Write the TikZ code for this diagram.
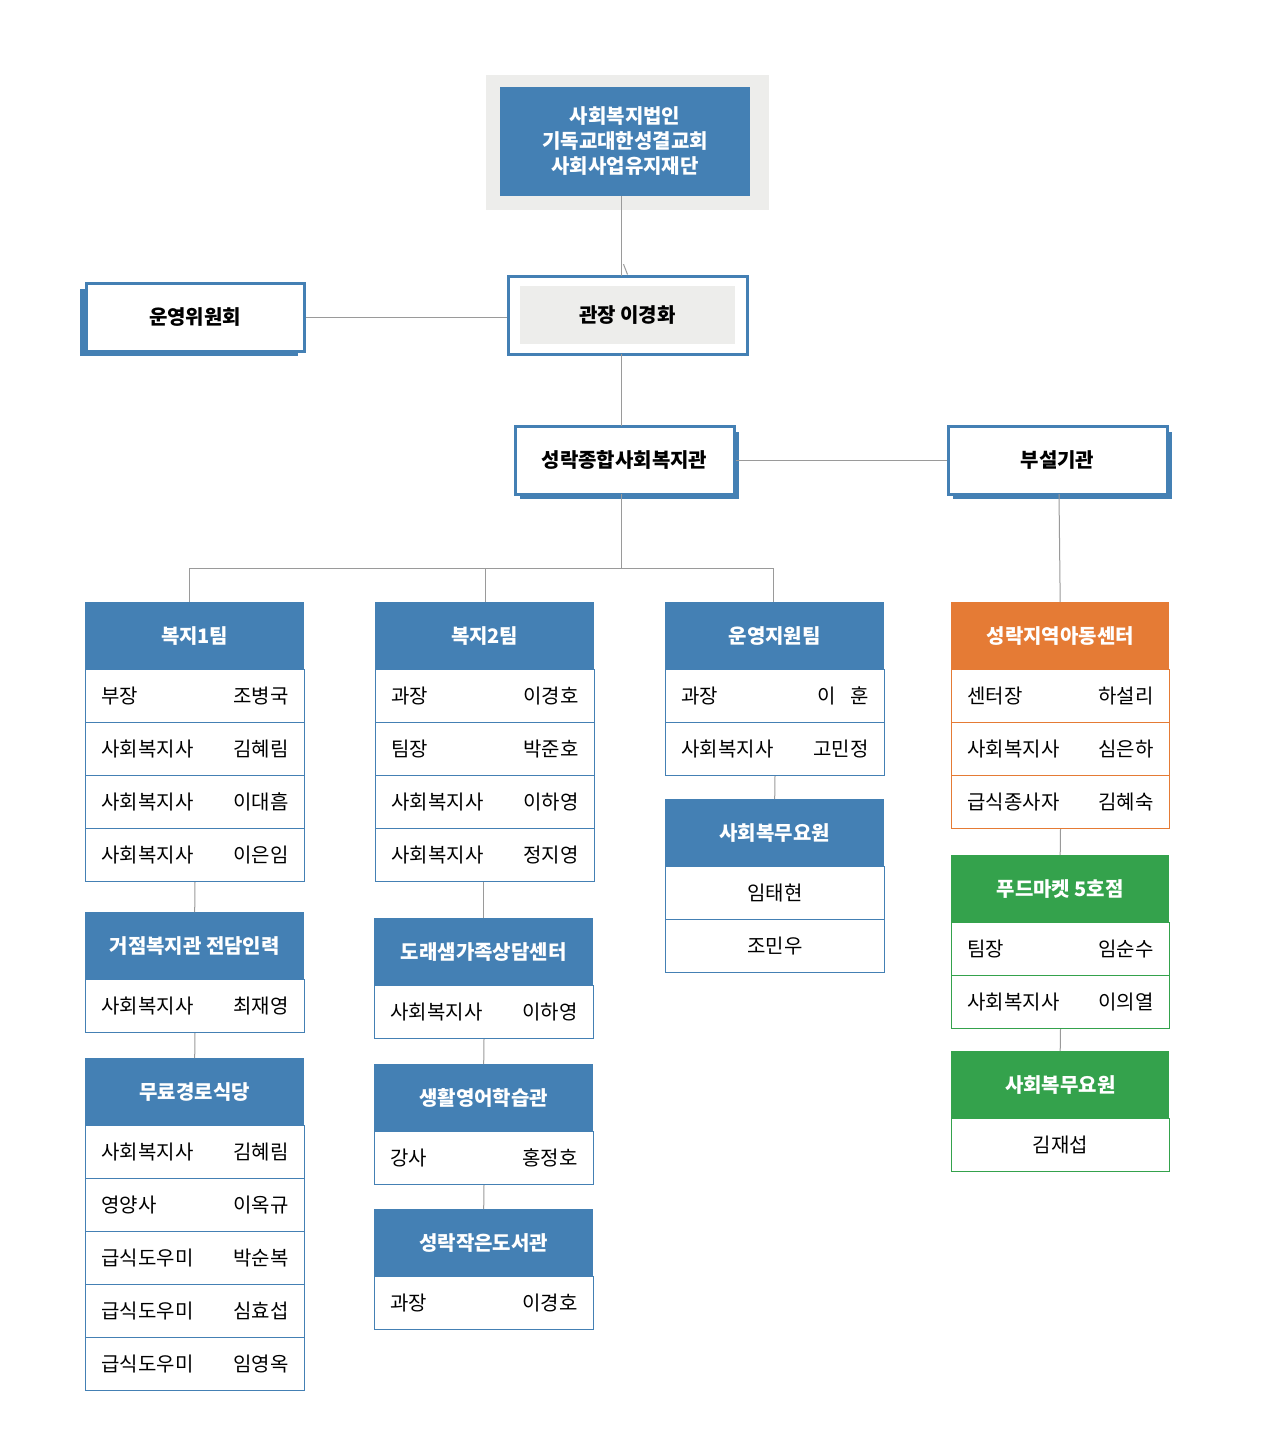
\documentclass[tikz,border=0pt]{standalone}
\usepackage{fontspec}
\setmainfont{Noto Sans CJK KR}
\newfontfamily\kb[FakeBold=0]{Noto Sans CJK KR Medium}
\definecolor{cblue}{HTML}{4480B4}
\definecolor{cblue2}{HTML}{9BBBDA}
\definecolor{corange}{HTML}{E57B35}
\definecolor{cgreen}{HTML}{34A24C}
\definecolor{cgrey}{HTML}{EDEDEB}
\definecolor{lgrey}{HTML}{9A9A9A}
\tikzset{
 hdrbox/.style={fill=cblue,text=white,font=\fontsize{20}{22}\selectfont\bfseries,minimum height=67pt,inner sep=0pt,anchor=north west},
 rowbox/.style={draw=cblue,line width=1pt,fill=white,minimum height=53pt,inner sep=0pt,anchor=north west,font=\fontsize{20}{22}\selectfont},
 conn/.style={draw=lgrey,line width=1pt},
 topbox/.style={draw=cblue,line width=3pt,fill=white,inner sep=0pt,font=\fontsize{20}{22}\selectfont\bfseries},
}
\newcommand\hdr[6]{\node[hdrbox,fill=#5,minimum width=#4pt] (#1) at (#2,#3) {#6};}
\newcommand\rw[7]{\node[rowbox,draw=#5,minimum width=#4pt] (#1) at (#2,#3) {\makebox[\dimexpr#4pt-32pt\relax]{#6\hfill #7}};}
\newcommand\rc[6]{\node[rowbox,draw=#5,minimum width=#4pt] (#1) at (#2,#3) {#6};}
\begin{document}
\begin{tikzpicture}[x=1pt,y=-1pt]
\useasboundingbox (0,0) rectangle (1261,1443);
% top
\fill[cgrey] (486,75) rectangle (769,210);
\node[fill=cblue,text=white,minimum width=250pt,minimum height=109pt,inner sep=0pt,align=center,font=\fontsize{20}{25}\selectfont\bfseries] (top) at (625,141.5) {사회복지법인\\기독교대한성결교회\\사회사업유지재단};
\coordinate (topb) at (625,210);
% 관장
\node[topbox,minimum width=239pt,minimum height=78pt] (gj) at (627.5,315) {};
\node[fill=cgrey,minimum width=215pt,minimum height=58pt,inner sep=0pt,font=\fontsize{20}{22}\selectfont\bfseries] (gjt) at (627.5,315) {관장 이경화};
% 운영위원회
\fill[cblue] (80,289) rectangle (298,356);
\node[topbox,minimum width=218pt,minimum height=68pt] (uy) at (195,317) {운영위원회};
% 성락종합
\fill[cblue] (520,432) rectangle (739,499);
\node[topbox,minimum width=219pt,minimum height=68pt] (sr) at (624.5,460) {성락종합사회복지관};
\fill[cblue] (953,432) rectangle (1172,499);
\node[topbox,minimum width=219pt,minimum height=68pt] (bs) at (1057.5,460) {부설기관};
% connectors top
\draw[conn] (top.south -| gj.north) ++(-4,68) -- (gj.north);
\draw[conn] (621,196) -- (621,276);
\draw[conn] (uy.east) -- (gj.west |- uy.east);
\draw[conn] (621,354) -- (621,426);
\draw[conn] (sr.east) -- (bs.west);
\coordinate (jn) at (621,568);
\draw[conn] (621,494) -- (jn);
% column 1
\hdr{a0}{85}{602}{219}{cblue}{복지1팀}
\rw{a1}{85}{669}{219}{cblue}{부장}{조병국}
\rw{a2}{85}{722}{219}{cblue}{사회복지사}{김혜림}
\rw{a3}{85}{775}{219}{cblue}{사회복지사}{이대흠}
\rw{a4}{85}{828}{219}{cblue}{사회복지사}{이은임}
\hdr{b0}{85}{912}{219}{cblue}{거점복지관 전담인력}
\rw{b1}{85}{979}{219}{cblue}{사회복지사}{최재영}
\hdr{c0}{85}{1058}{219}{cblue}{무료경로식당}
\rw{c1}{85}{1125}{219}{cblue}{사회복지사}{김혜림}
\rw{c2}{85}{1178}{219}{cblue}{영양사}{이옥규}
\rw{c3}{85}{1231}{219}{cblue}{급식도우미}{박순복}
\rw{c4}{85}{1284}{219}{cblue}{급식도우미}{심효섭}
\rw{c5}{85}{1337}{219}{cblue}{급식도우미}{임영옥}
% column 2
\hdr{d0}{375}{602}{219}{cblue}{복지2팀}
\rw{d1}{375}{669}{219}{cblue}{과장}{이경호}
\rw{d2}{375}{722}{219}{cblue}{팀장}{박준호}
\rw{d3}{375}{775}{219}{cblue}{사회복지사}{이하영}
\rw{d4}{375}{828}{219}{cblue}{사회복지사}{정지영}
\hdr{e0}{374}{918}{219}{cblue}{도래샘가족상담센터}
\rw{e1}{374}{985}{219}{cblue}{사회복지사}{이하영}
\hdr{f0}{374}{1064}{219}{cblue}{생활영어학습관}
\rw{f1}{374}{1131}{219}{cblue}{강사}{홍정호}
\hdr{g0}{374}{1209}{219}{cblue}{성락작은도서관}
\rw{g1}{374}{1276}{219}{cblue}{과장}{이경호}
% column 3
\hdr{h0}{665}{602}{219}{cblue}{운영지원팀}
\rw{h1}{665}{669}{219}{cblue}{과장}{이\hspace{14pt}훈}
\rw{h2}{665}{722}{219}{cblue}{사회복지사}{고민정}
\hdr{i0}{665}{799}{219}{cblue}{사회복무요원}
\rc{i1}{665}{866}{219}{cblue}{임태현}
\rc{i2}{665}{919}{219}{cblue}{조민우}
% column 4
\hdr{j0}{951}{602}{218}{corange}{성락지역아동센터}
\rw{j1}{951}{669}{218}{corange}{센터장}{하설리}
\rw{j2}{951}{722}{218}{corange}{사회복지사}{심은하}
\rw{j3}{951}{775}{218}{corange}{급식종사자}{김혜숙}
\hdr{k0}{951}{855}{218}{cgreen}{푸드마켓 5호점}
\rw{k1}{951}{922}{218}{cgreen}{팀장}{임순수}
\rw{k2}{951}{975}{218}{cgreen}{사회복지사}{이의열}
\hdr{l0}{951}{1051}{218}{cgreen}{사회복무요원}
\rc{l1}{951}{1118}{218}{cgreen}{김재섭}
% column connectors
\draw[conn] (jn) -| (189,602);
\draw[conn] (jn) -| (485,602);
\draw[conn] (jn) -| (773,602);
\draw[conn] (1059,494) -- (j0.north);
\draw[conn] (a4.south) -- (b0.north);
\draw[conn] (b1.south) -- (c0.north);
\draw[conn] (d4.south -| e0.north) -- (e0.north);
\draw[conn] (e1.south) -- (f0.north);
\draw[conn] (f1.south) -- (g0.north);
\draw[conn] (h2.south) -- (i0.north);
\draw[conn] (j3.south) -- (k0.north);
\draw[conn] (k2.south) -- (l0.north);
\end{tikzpicture}
\end{document}
